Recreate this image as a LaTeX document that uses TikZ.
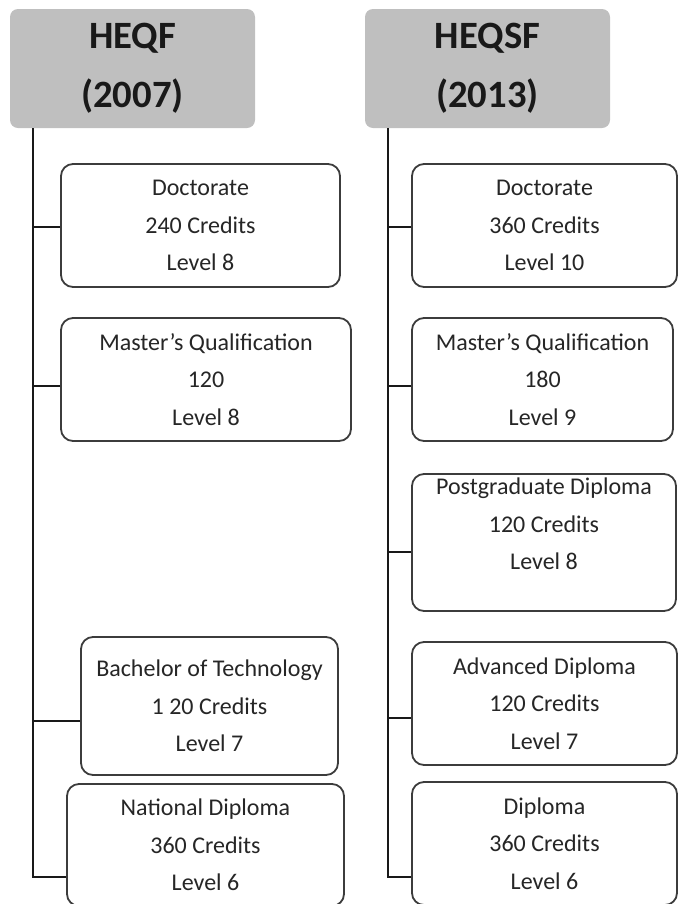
\documentclass[tikz,border=0pt]{standalone}
\usepackage{fontspec}
\setmainfont{Carlito}
\usetikzlibrary{positioning}

\newdimen\px \px=0.75pt
\definecolor{headgray}{RGB}{191,191,191}
\definecolor{boxline}{RGB}{60,60,60}

\tikzset{
  headbox/.style={fill=headgray, rounded corners=8\px, inner sep=0pt, align=center,
                  minimum width=245\px, minimum height=119\px,
                  font=\fontsize{29}{44}\selectfont\bfseries, text=black!90},
  qualbox/.style={draw=boxline, line width=1.8\px, rounded corners=12\px, fill=white,
                  inner sep=0pt, align=center,
                  font=\fontsize{18}{28}\selectfont, text=black!85},
  trunk/.style={line width=2.4\px, draw=black!90}
}

\begin{document}
\begin{tikzpicture}[x=0.75pt, y=-0.75pt]
  \useasboundingbox (0,0) rectangle (679,904);
  \clip (0,0) rectangle (679,904);

  % headings
  \node[headbox] (heqf)  at (132.5,68.5) {HEQF\\(2007)};
  \node[headbox] (heqsf) at (487.5,68.5) {HEQSF\\(2013)};

  % 2007 framework
  \node[qualbox, minimum width=279\px, minimum height=123\px] (ldoc) at (200.5,225.5)
       {Doctorate\\240 Credits\\Level 8};
  \node[qualbox, minimum width=290\px, minimum height=123\px] (lmas) at (206,379.5)
       {Master’s Qualification\\120\\Level 8};
  \node[qualbox, minimum width=257\px, minimum height=138\px] (lbt) at (209.5,706)
       {Bachelor of Technology\\1 20 Credits\\Level 7};
  \node[qualbox, minimum width=277\px, minimum height=122\px] (lnd) at (205.5,845)
       {National Diploma\\360 Credits\\Level 6};

  % 2013 framework
  \node[qualbox, minimum width=265\px, minimum height=123\px] (rdoc) at (544.5,225.5)
       {Doctorate\\360 Credits\\Level 10};
  \node[qualbox, minimum width=261\px, minimum height=123\px] (rmas) at (542.5,379.5)
       {Master’s Qualification\\180\\Level 9};
  \node[qualbox, minimum width=264\px, minimum height=137\px] (rpgd) at (544,542.5)
       {Postgraduate Diploma\\120 Credits\\Level 8\\\mbox{}};
  \node[qualbox, minimum width=265\px, minimum height=123\px] (radv) at (544.5,703.5)
       {Advanced Diploma\\120 Credits\\Level 7};
  \node[qualbox, minimum width=265\px, minimum height=123\px] (rdip) at (544.5,843.5)
       {Diploma\\360 Credits\\Level 6};

  % trunks
  \coordinate (lend) at (33,877);
  \coordinate (rend) at (388,877);
  \draw[trunk] (heqf.south -| lend) -- (lend) -- (lend -| lnd.west);
  \draw[trunk] (heqsf.south -| rend) -- (rend) -- (rend -| rdip.west);

  % branches
  \draw[trunk] ([yshift=-1.5\px]ldoc.west) -| (lend);
  \draw[trunk] ([yshift=-6.5\px]lmas.west) -| (lend);
  \draw[trunk] ([yshift=-15\px]lbt.west) -| (lend);
  \draw[trunk] ([yshift=-1.5\px]rdoc.west) -| (rend);
  \draw[trunk] ([yshift=-6.5\px]rmas.west) -| (rend);
  \draw[trunk] ([yshift=-9.5\px]rpgd.west) -| (rend);
  \draw[trunk] ([yshift=-14.5\px]radv.west) -| (rend);
\end{tikzpicture}
\end{document}
